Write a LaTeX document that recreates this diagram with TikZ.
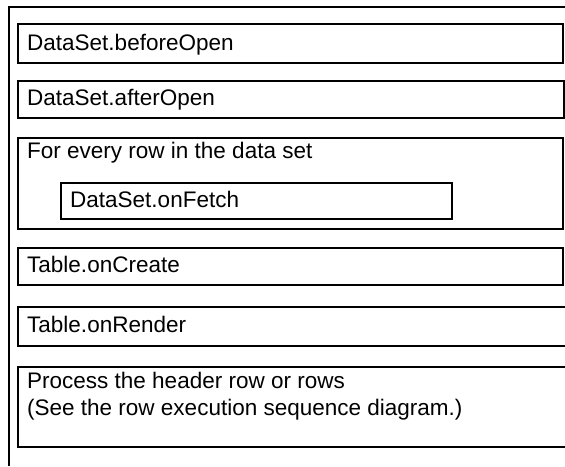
\documentclass[tikz,border=0pt]{standalone}
\usepackage{fontspec}
\setmainfont{Liberation Sans}
\begin{document}
\begin{tikzpicture}[x=1pt,y=-1pt,
  box/.style={draw=black,line width=1.8pt,anchor=north west,inner sep=0pt,outer sep=0pt},
  lbl/.style={anchor=base west,inner sep=0pt,font=\fontsize{22.5}{27}\selectfont}]
\useasboundingbox (0,0) rectangle (565,466);
% outer frame (top and left)
\coordinate (oC) at (9,7);
\coordinate (oB) at (9,466);
\coordinate (oE) at (565,7);
\draw[line width=1.8pt] (oB) -- (oC) -- (oE);
% boxes
\node[box,minimum width=545pt,minimum height=39pt] (b1) at (18,24) {};
\node[box,minimum width=546pt,minimum height=37pt] (b2) at (18,81) {};
\node[box,minimum width=545pt,minimum height=91pt] (b3) at (18,138) {};
\node[box,minimum width=391pt,minimum height=36pt] (b3i) at (61,183) {};
\node[box,minimum width=545pt,minimum height=37pt] (b4) at (18,248) {};
\node[box,minimum width=550pt,minimum height=39pt] (b5) at (18,307) {};
\node[box,minimum width=550pt,minimum height=80pt] (b6) at (18,367) {};
% labels
\node[lbl] (t1) at (27,50) {DataSet.beforeOpen};
\node[lbl] (t2) at (27,105) {DataSet.afterOpen};
\node[lbl] (t3) at (27,158) {For every row in the data set};
\node[lbl] (t3i) at (70,207) {DataSet.onFetch};
\node[lbl] (t4) at (27,272) {Table.onCreate};
\node[lbl] (t5) at (27,332) {Table.onRender};
\node[lbl] (t6a) at (27,388) {Process the header row or rows};
\node[lbl] (t6b) at (27,415) {(See the row execution sequence diagram.)};
\end{tikzpicture}
\end{document}
